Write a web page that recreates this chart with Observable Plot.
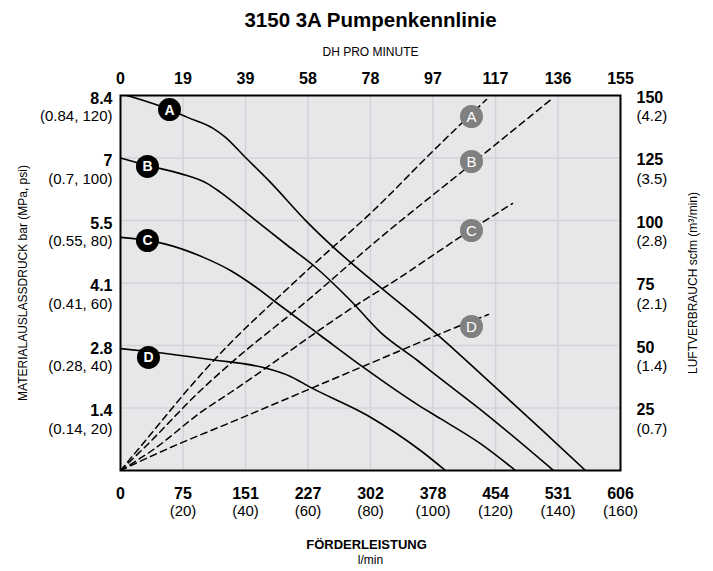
<!DOCTYPE html>
<html><head><meta charset="utf-8">
<script src="https://cdn.jsdelivr.net/npm/d3@7"></script>
<script src="https://cdn.jsdelivr.net/npm/@observablehq/plot@0.6"></script>
<style>
html,body{margin:0;padding:0;background:#fff;}
#chart{width:713px;height:571px;}
</style></head><body><div id="chart"></div>
<script>
const FONT = '"Liberation Sans", Arial, sans-serif';

// Texts
const chartTitle = "3150 3A Pumpenkennlinie";
const topTitle = "DH PRO MINUTE";
const xTitle = "FÖRDERLEISTUNG";
const xUnit = "l/min";
const leftTitle = "MATERIALAUSLASSDRUCK bar (MPa, psi)";
const rightTitle = "LUFTVERBRAUCH scfm (m³/min)";

// Ticks (x in l/min, y in psi, air in scfm)
const xTicks = [0, 75.75, 151.5, 227.25, 303, 378.75, 454.5, 530.25, 606];
const xLabels = ["0", "75", "151", "227", "302", "378", "454", "531", "606"];
const xSubLabels = ["", "(20)", "(40)", "(60)", "(80)", "(100)", "(120)", "(140)", "(160)"];
const topLabels = ["0", "19", "39", "58", "78", "97", "117", "136", "155"];
const yTicks = [20, 40, 60, 80, 100, 120];
const yLabels = ["1.4", "2.8", "4.1", "5.5", "7", "8.4"];
const ySubLabels = ["(0.14, 20)", "(0.28, 40)", "(0.41, 60)", "(0.55, 80)", "(0.7, 100)", "(0.84, 120)"];
const airTicks = [25, 50, 75, 100, 125, 150];
const airLabels = ["25", "50", "75", "100", "125", "150"];
const airSubLabels = ["(0.7)", "(1.4)", "(2.1)", "(2.8)", "(3.5)", "(4.2)"];
const AIR_MAX = 150, PSI_MAX = 120;

// Pump curves: [l/min, psi]
const pumpA = [[8,120],[59.4,115.5],[81.2,113.0],[112.7,109.4],[127.3,106.6],[149.1,100.8],[181.8,92.2],[226.6,79.4],[258.2,71.4],[315.1,58.6],[343.0,52.6],[387.8,42.6],[436.3,31.0],[509.0,13.4],[563.6,0]];
const pumpB = [[0,100],[32.7,97.6],[72.7,95.0],[105.4,91.8],[121.2,89.0],[161.2,80.6],[202.4,72.0],[233.9,65.6],[278.8,54.4],[315.1,44.2],[360.0,35.2],[387.8,29.4],[436.3,19.5],[524.8,0]];
const pumpC = [[0,74.6],[32.7,73.6],[52.1,72.6],[100.6,68.2],[133.3,64.0],[161.2,59.2],[185.4,54.4],[242.4,43.2],[294.5,33.0],[360.0,21.1],[387.8,16.6],[436.3,8.6],[478.7,0]];
const pumpD = [[0,39.0],[33.9,38.1],[109.1,35.5],[178.2,32.6],[206.0,30.1],[230.3,26.6],[299.4,17.6],[363.6,6.4],[393.9,0]];

// Air consumption curves: [l/min, scfm]
const airA = [[0,0],[21.8,8.6],[97.0,38.2],[133.3,51],[185.4,67.5],[232.7,82],[306.6,104],[379.4,128],[443.6,148.4]];
const airB = [[0,0],[30.3,9.6],[97.0,32],[133.3,42.8],[226.6,68],[315.1,93.2],[415.7,120],[524.8,149.2]];
const airC = [[0,0],[40,8.4],[97,23.2],[133.3,31.2],[294.5,68],[323.6,74],[425.4,96.4],[475.1,106.8]];
const airD = [[0,0],[60.6,9.2],[133.3,19.2],[299.4,42.4],[412.1,58],[446,62.4]];

// Curve labels
const curveKeys = ["A", "B", "C", "D"];
const pumpLabelPos = [[59.4,115.5],[32.7,97.3],[32.7,73.6],[33.9,36.2]];
const airLabelPos = [[425.4,141.6],[425.4,123.6],[425.4,96],[425.4,57.6]];

const pumpRows = [pumpA, pumpB, pumpC, pumpD].flatMap((pts, i) => pts.map(p => ({key: curveKeys[i], x: p[0], y: p[1]})));
const airRows = [airA, airB, airC, airD].flatMap((pts, i) => pts.map(p => ({key: curveKeys[i], x: p[0], y: p[1] * PSI_MAX / AIR_MAX})));
const pumpLab = pumpLabelPos.map((p, i) => ({key: curveKeys[i], x: p[0], y: p[1]}));
const airLab = airLabelPos.map((p, i) => ({key: curveKeys[i], x: p[0], y: p[1] * PSI_MAX / AIR_MAX}));
const airTickPsi = airTicks.map(v => v * PSI_MAX / AIR_MAX);

const T = {lineAnchor: "middle"};
const chart = Plot.plot({
  width: 713, height: 571,
  marginLeft: 120, marginRight: 93, marginTop: 95, marginBottom: 101,
  style: {fontFamily: FONT, background: "#fff", color: "#000"},
  x: {domain: [0, 606], axis: null},
  y: {domain: [0, 120], axis: null},
  marks: [
    Plot.frame({fill: "#e6e7e9", stroke: null}),
    Plot.gridX(xTicks.slice(1, -1), {stroke: "#d2d3d6", strokeOpacity: 1, strokeWidth: 1.5}),
    Plot.gridY(yTicks.slice(0, -1), {stroke: "#d2d3d6", strokeOpacity: 1, strokeWidth: 1.5}),
    Plot.line(airRows, {x: "x", y: "y", z: "key", stroke: "#000", strokeWidth: 1.5, strokeDasharray: "6.5,4.5", curve: "monotone-x", clip: true}),
    Plot.line(pumpRows, {x: "x", y: "y", z: "key", stroke: "#000", strokeWidth: 1.6, curve: "monotone-x", clip: true}),
    Plot.frame({stroke: "#000", strokeWidth: 2}),
    Plot.dot(pumpLab, {x: "x", y: "y", r: 11.5, fill: "#000", stroke: null}),
    Plot.text(pumpLab, {...T, x: "x", y: "y", text: "key", fill: "#fff", fontWeight: "bold", fontSize: 14, dy: 0.5}),
    Plot.dot(airLab, {x: "x", y: "y", r: 11.5, fill: "#808080", stroke: null}),
    Plot.text(airLab, {...T, x: "x", y: "y", text: "key", fill: "#fff", fontSize: 15, dy: 0.5}),
    // bottom axis
    Plot.text(xTicks, {...T, x: d => d, text: (d, i) => xLabels[i], frameAnchor: "bottom", dy: 23, fontWeight: "bold", fontSize: 16}),
    Plot.text(xTicks, {...T, x: d => d, text: (d, i) => xSubLabels[i], frameAnchor: "bottom", dy: 41, fontSize: 15}),
    // top axis
    Plot.text(xTicks, {...T, x: d => d, text: (d, i) => topLabels[i], frameAnchor: "top", dy: -17, fontWeight: "bold", fontSize: 16}),
    // left axis
    Plot.text(yTicks, {...T, y: d => d, text: (d, i) => yLabels[i], frameAnchor: "left", dx: -8, dy: 3, textAnchor: "end", fontWeight: "bold", fontSize: 16}),
    Plot.text(yTicks, {...T, y: d => d, text: (d, i) => ySubLabels[i], frameAnchor: "left", dx: -8, dy: 21, textAnchor: "end", fontSize: 15}),
    // right axis
    Plot.text(airTickPsi, {...T, y: d => d, text: (d, i) => airLabels[i], frameAnchor: "right", dx: 16, dy: 2, textAnchor: "start", fontWeight: "bold", fontSize: 16}),
    Plot.text(airTickPsi, {...T, y: d => d, text: (d, i) => airSubLabels[i], frameAnchor: "right", dx: 16, dy: 21, textAnchor: "start", fontSize: 15}),
    // titles
    Plot.text([chartTitle], {...T, text: d => d, frameAnchor: "top", dy: -75, fontWeight: "bold", fontSize: 20.5}),
    Plot.text([topTitle], {...T, text: d => d, frameAnchor: "top", dy: -43, fontSize: 12}),
    Plot.text([xTitle], {...T, text: d => d, frameAnchor: "bottom", dy: 74, dx: -4, fontWeight: "bold", fontSize: 13}),
    Plot.text([xUnit], {...T, text: d => d, frameAnchor: "bottom", dy: 90, fontSize: 12}),
    Plot.text([leftTitle], {...T, text: d => d, frameAnchor: "left", dx: -97, rotate: -90, textAnchor: "middle", fontSize: 12}),
    Plot.text([rightTitle], {...T, text: d => d, frameAnchor: "right", dx: 73, rotate: -90, textAnchor: "middle", fontSize: 12})
  ]
});
document.getElementById("chart").appendChild(chart);
</script></body></html>
